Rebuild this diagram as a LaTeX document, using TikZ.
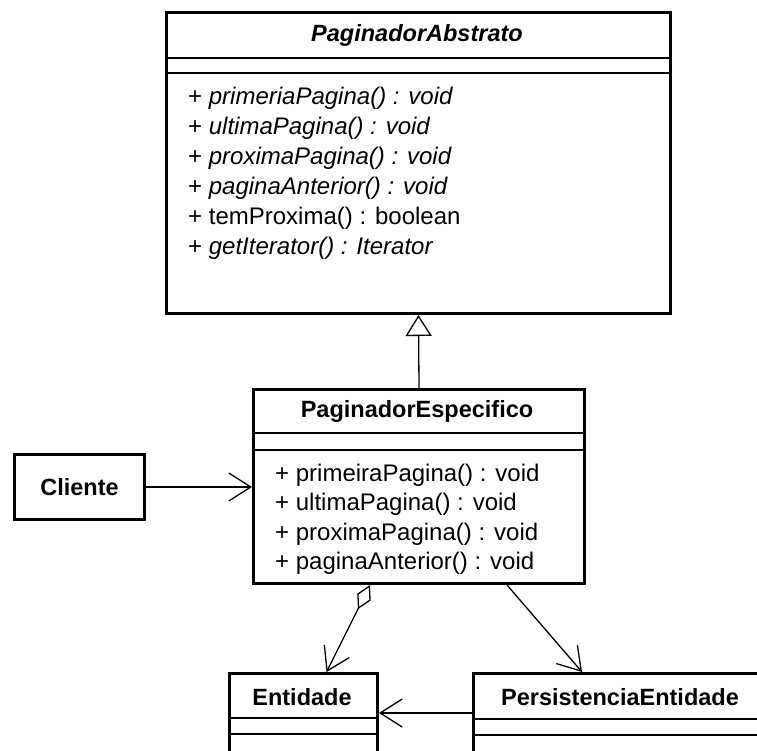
\documentclass[tikz,border=0pt]{standalone}
\usepackage{fontspec}
\setmainfont{Liberation Sans}
\usetikzlibrary{arrows.meta,calc}

\tikzset{
  classbox/.style={draw, line width=3pt, fill=white, anchor=north west, inner sep=0pt},
  sepline/.style={line width=1.8pt},
  classtitle/.style={font=\fontsize{23.5}{27}\selectfont\bfseries},
  member/.style={anchor=west, inner sep=0pt, font=\fontsize{24}{28}\selectfont},
  link/.style={line width=1.3pt},
  barb/.style={-{Straight Barb[length=22pt,width=28pt]}}
}

\begin{document}
\begin{tikzpicture}[x=1pt,y=-1pt]

\useasboundingbox (0,0) rectangle (757,751);
\clip (0,0) rectangle (757,751);

% PaginadorAbstrato
\node[classbox, minimum width=504pt, minimum height=301pt] (abstrato) at (165,11) {};
\draw[sepline] (165,58) -- (669,58);
\draw[sepline] (165,73) -- (669,73);
\node[classtitle] (abstrato-t) at (417,35) {\itshape PaginadorAbstrato};
\foreach \i/\m in {0/\textit{primeriaPagina() : void},
                   1/\textit{ultimaPagina() : void},
                   2/\textit{proximaPagina() : void},
                   3/\textit{paginaAnterior() : void},
                   4/{temProxima() : boolean},
                   5/\textit{getIterator() : Iterator}} {
  \node[member] (abstrato-m\i) at (188,98+30*\i) {+ \m};
}

% PaginadorEspecifico
\node[classbox, minimum width=331pt, minimum height=194pt] (especifico) at (252,388) {};
\draw[sepline] (252,433) -- (583,433);
\draw[sepline] (252,450) -- (583,450);
\node[classtitle] (especifico-t) at (417,411) {PaginadorEspecifico};
\foreach \i/\m in {0/primeiraPagina() : void,
                   1/ultimaPagina() : void,
                   2/proximaPagina() : void,
                   3/paginaAnterior() : void} {
  \node[member] (especifico-m\i) at (275,475+29.5*\i) {+ \m};
}

% Cliente
\node[classbox, minimum width=130pt, minimum height=65pt] (cliente) at (13,453) {};
\node[classtitle] (cliente-t) at (cliente.center) {Cliente};

% Entidade (cut off at the bottom)
\node[classbox, minimum width=148pt, minimum height=150pt] (entidade) at (228,672) {};
\draw[sepline] (228,718) -- (376,718);
\draw[sepline] (228,734) -- (376,734);
\node[classtitle] (entidade-t) at (302,697) {Entidade};

% PersistenciaEntidade (cut off at the bottom and right)
\node[classbox, minimum width=296pt, minimum height=150pt] (persistencia) at (472,672) {};
\draw[sepline] (472,719) -- (768,719);
\draw[sepline] (472,735) -- (768,735);
\node[classtitle] (persistencia-t) at (620,697) {PersistenciaEntidade};

% Generalization
\draw[link, -{Triangle[open, length=21pt, width=26pt, fill=white]}]
  (especifico.north) -- (abstrato.south);

% Associations
\draw[link, barb] (cliente.east) -- (cliente.east -| especifico.west);
\draw[link, barb] ($(especifico.south)+(88,0)$) -- ($(persistencia.north west)+(110,0)$);
\draw[link, barb] ($(persistencia.north west)+(0,41)$) -- ($(entidade.north east)+(0,41)$);

% Aggregation
\draw[link, {Diamond[open, length=27pt, width=15pt]}-{Straight Barb[length=22pt,width=28pt]}]
  ($(especifico.south)+(-49,0)$) -- ($(entidade.north)+(23,0)$);

\end{tikzpicture}
\end{document}
